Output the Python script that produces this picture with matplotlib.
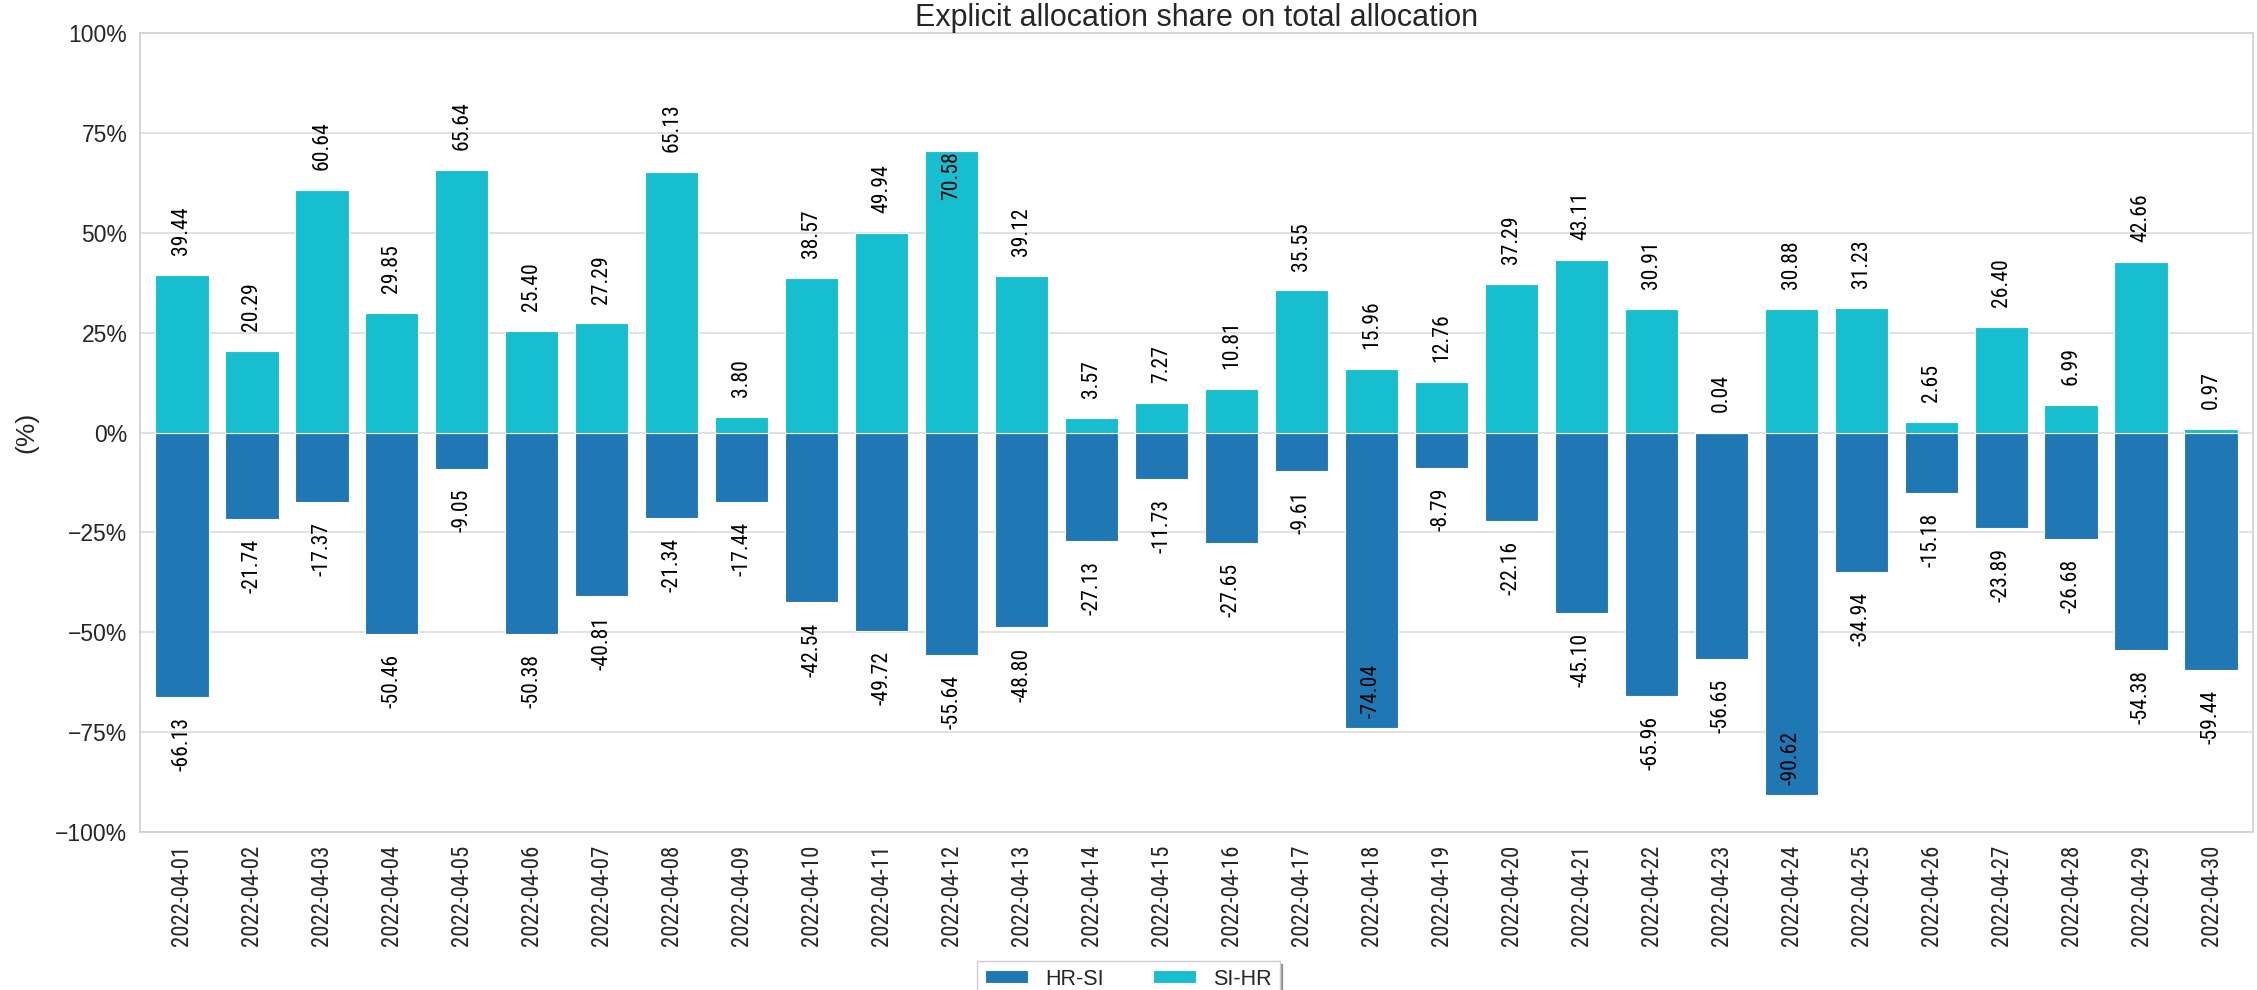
import matplotlib
matplotlib.use("Agg")
import matplotlib.pyplot as plt
from matplotlib import font_manager as fm
import seaborn as sns
import numpy as np
from matplotlib.ticker import PercentFormatter, FixedLocator

# Daily explicit allocation share per direction (%)
dates = [f"2022-04-{d:02d}" for d in range(1, 31)]
hr_si = [-66.13, -21.74, -17.37, -50.46, -9.05, -50.38, -40.81, -21.34, -17.44, -42.54,
         -49.72, -55.64, -48.80, -27.13, -11.73, -27.65, -9.61, -74.04, -8.79, -22.16,
         -45.10, -65.96, -56.65, -90.62, -34.94, -15.18, -23.89, -26.68, -54.38, -59.44]
si_hr = [39.44, 20.29, 60.64, 29.85, 65.64, 25.40, 27.29, 65.13, 3.80, 38.57,
         49.94, 70.58, 39.12, 3.57, 7.27, 10.81, 35.55, 15.96, 12.76, 37.29,
         43.11, 30.91, 0.04, 30.88, 31.23, 2.65, 26.40, 6.99, 42.66, 0.97]
series_names = ["HR-SI", "SI-HR"]
series_colors = ["#1f77b4", "#17becf"]
y_ticks = [-100, -75, -50, -25, 0, 25, 50, 75, 100]

sns.set_style("whitegrid")
plt.rcParams["font.family"] = ["Liberation Sans", "DejaVu Sans"]
text_color = "#262626"

# Prefer a narrow face for the vertical labels when one is available
installed = {f.name for f in fm.fontManager.ttflist}
narrow_family, width_factor = "Liberation Sans", 1.0
for cand, wf in [("Liberation Sans Narrow", 0.82), ("Arial Narrow", 0.82),
                 ("Roboto Condensed", 0.83)]:
    if cand in installed:
        narrow_family, width_factor = cand, wf
        break
narrow = [narrow_family, "Liberation Sans", "DejaVu Sans"]
tick_size = 13.7 / width_factor
value_size = 13.0 / width_factor

fig = plt.figure(figsize=(22.57, 9.9), dpi=100)
ax = fig.add_axes([140 / 2257, 158 / 990, (2253 - 140) / 2257, (832 - 33) / 990])

x = np.arange(len(dates))
bar_w = 0.76
for vals, name, col in zip([hr_si, si_hr], series_names, series_colors):
    ax.bar(x, vals, width=bar_w, color=col, label=name,
           edgecolor="white", linewidth=0.8, zorder=2)

# value labels, drawn just beyond the bar end (inside for very long bars)
for vals in (hr_si, si_hr):
    for xi, v in zip(x, vals):
        txt = f"{v:.2f}"
        if abs(v) > 70:
            if v > 0:
                y, va = v - 0.3, "top"
            else:
                y, va = v + 2.5, "bottom"
        else:
            if v >= 0:
                y, va = v + 5, "bottom"
            else:
                y, va = v - 5, "top"
        ax.text(xi, y, txt, rotation=90, ha="center", va=va, fontsize=value_size,
                family=narrow, color="black", zorder=3)

ax.set_xlim(-0.6, 29.6)
ax.set_ylim(-100, 100)
ax.yaxis.set_major_locator(FixedLocator(y_ticks))
ax.yaxis.set_major_formatter(PercentFormatter(decimals=0))
ax.set_xticks(x)
ax.set_xticklabels(dates, rotation=90, fontsize=tick_size, family=narrow, color=text_color)
ax.tick_params(axis="x", length=0, pad=9)
ax.tick_params(axis="y", length=0, pad=9, labelsize=16.5, labelcolor=text_color)
ax.grid(axis="x", visible=False)
ax.grid(axis="y", color="#dcdcdc", linewidth=1.2)
ax.set_axisbelow(True)
for sp in ax.spines.values():
    sp.set_color("#d0d0d0")
    sp.set_linewidth(1.2)

ax.set_ylabel("(%)", fontsize=19, color=text_color, labelpad=12)
ax.set_title("Explicit allocation share on total allocation", fontsize=22,
             color=text_color, pad=5)

leg = ax.legend(loc="upper center", bbox_to_anchor=(0.5, 29 / 990),
                bbox_transform=fig.transFigure, ncol=2, fontsize=15.5,
                frameon=True, fancybox=False, shadow=True, framealpha=1,
                borderaxespad=0, borderpad=0.35,
                columnspacing=2.3, handlelength=2.0, handleheight=0.55)
leg.get_frame().set_edgecolor("#cccccc")
for t in leg.get_texts():
    t.set_color(text_color)

fig.savefig("out.png", dpi=100)
